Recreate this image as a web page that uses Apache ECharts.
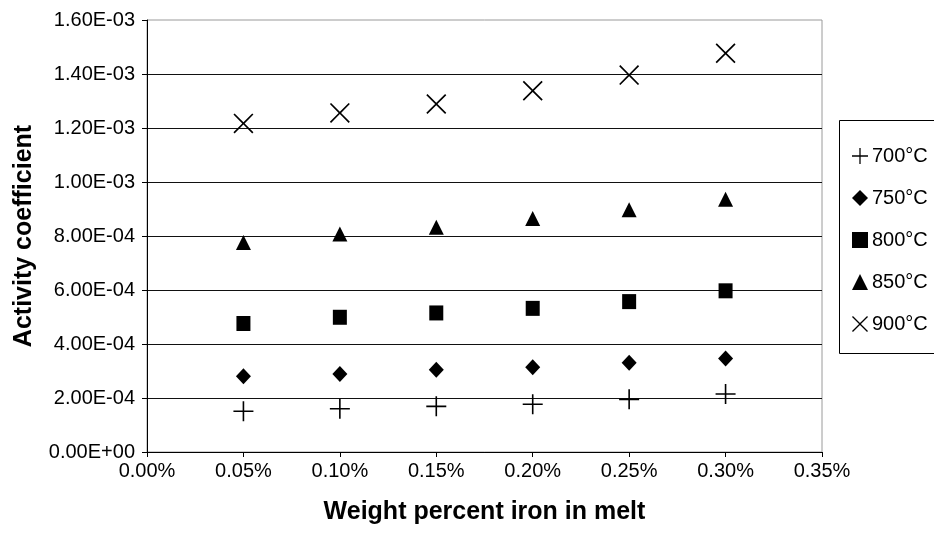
<!DOCTYPE html>
<html>
<head>
<meta charset="utf-8">
<script src="https://cdn.jsdelivr.net/npm/echarts@6/dist/echarts.min.js"></script>
<style>
html,body{margin:0;padding:0;background:#fff;}
#chart{width:934px;height:533px;}
</style>
</head>
<body>
<div id="chart"></div>
<script>
// ---- data ----
const ironPct = [0.05, 0.10, 0.15, 0.20, 0.25, 0.30];
const seriesNames = ['700°C', '750°C', '800°C', '850°C', '900°C'];
const gamma700 = [1.51e-4, 1.60e-4, 1.69e-4, 1.77e-4, 1.95e-4, 2.15e-4];
const gamma750 = [2.81e-4, 2.89e-4, 3.05e-4, 3.14e-4, 3.31e-4, 3.46e-4];
const gamma800 = [4.76e-4, 4.99e-4, 5.15e-4, 5.32e-4, 5.57e-4, 5.97e-4];
const gamma850 = [7.76e-4, 8.07e-4, 8.32e-4, 8.65e-4, 8.97e-4, 9.36e-4];
const gamma900 = [1.217e-3, 1.256e-3, 1.289e-3, 1.338e-3, 1.396e-3, 1.477e-3];
const xTicks = [0, 0.05, 0.10, 0.15, 0.20, 0.25, 0.30, 0.35];
const yTicks = [0, 2e-4, 4e-4, 6e-4, 8e-4, 1.0e-3, 1.2e-3, 1.4e-3, 1.6e-3];

const PLUS = 'path://M4.6,0H5.4V4.6H10V5.4H5.4V10H4.6V5.4H0V4.6H4.6Z';
const CROSS = 'path://M0,0.6L0.6,0L5,4.4L9.4,0L10,0.6L5.6,5L10,9.4L9.4,10L5,5.6L0.6,10L0,9.4L4.4,5Z';

function sci(v) {
  if (Math.abs(v) < 1e-12) return '0.00E+00';
  const parts = v.toExponential(2).split('e');
  const n = parseInt(parts[1], 10);
  return parts[0] + 'E' + (n < 0 ? '-' : '+') + String(Math.abs(n)).padStart(2, '0');
}
function pair(ys) { return ironPct.map((x, i) => [x, ys[i]]); }

const styleDefs = [
  { data: gamma700, symbol: PLUS, size: [20, 20] },
  { data: gamma750, symbol: 'diamond', size: [15, 16] },
  { data: gamma800, symbol: 'rect', size: [14, 15] },
  { data: gamma850, symbol: 'triangle', size: [15, 15] },
  { data: gamma900, symbol: CROSS, size: [20, 20] }
];

const font = '"Liberation Sans", Arial, sans-serif';
const chart = echarts.init(document.getElementById('chart'), null, { renderer: 'canvas' });
chart.setOption({
  animation: false,
  backgroundColor: '#fff',
  textStyle: { fontFamily: font, color: '#000' },
  grid: { left: 147, right: 112, top: 20, bottom: 81, show: true, borderColor: '#9a9a9a', borderWidth: 1, backgroundColor: 'transparent' },
  xAxis: {
    type: 'value', min: 0, max: 0.35, interval: 0.05,
    name: 'Weight percent iron in melt', nameLocation: 'middle', nameGap: 48,
    nameTextStyle: { fontFamily: font, fontSize: 25, fontWeight: 'bold', color: '#000' },
    axisLine: { show: true, lineStyle: { color: '#000', width: 1 } },
    axisTick: { show: true, inside: false, length: 5, lineStyle: { color: '#000' } },
    axisLabel: { fontFamily: font, fontSize: 20, color: '#000', margin: 9,
      formatter: v => v.toFixed(2) + '%' },
    splitLine: { show: false }
  },
  yAxis: {
    type: 'value', min: 0, max: 1.6e-3, interval: 2e-4,
    name: 'Activity coefficient', nameLocation: 'middle', nameGap: 110,
    nameTextStyle: { fontFamily: font, fontSize: 25, fontWeight: 'bold', color: '#000' },
    axisLine: { show: true, lineStyle: { color: '#000', width: 1 } },
    axisTick: { show: true, inside: false, length: 5, lineStyle: { color: '#000' } },
    axisLabel: { fontFamily: font, fontSize: 20, color: '#000', margin: 12, formatter: sci },
    splitLine: { show: true, showMaxLine: false, lineStyle: { color: '#111', width: 1.2 } }
  },
  legend: {
    orient: 'vertical', left: 847, top: 141,
    itemWidth: 16, itemHeight: 16, itemGap: 22,
    textStyle: { fontFamily: font, fontSize: 20, color: '#000', padding: [3, 0, 0, -1] },
    data: seriesNames.map(n => ({ name: n }))
  },
  graphic: [{
    type: 'rect', left: 837, top: 118, z: 0,
    shape: { width: 120, height: 233 },
    style: { fill: 'none', stroke: '#000', lineWidth: 1 }
  }],
  series: styleDefs.map((d, i) => ({
    name: seriesNames[i], type: 'scatter',
    symbol: d.symbol, symbolSize: d.size,
    itemStyle: { color: '#000', opacity: 1 },
    data: pair(d.data)
  }))
});
</script>
</body>
</html>
